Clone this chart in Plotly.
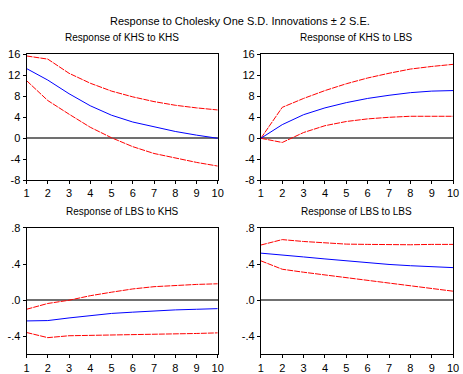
import plotly.graph_objects as go

periods = list(range(1, 11))

# Response of KHS to KHS
khs_khs = [13.3, 11.1, 8.5, 6.2, 4.4, 3.1, 2.2, 1.3, 0.6, 0.0]
khs_khs_up = [15.7, 15.1, 12.4, 10.5, 9.0, 7.9, 7.0, 6.3, 5.8, 5.4]
khs_khs_lo = [11.0, 7.2, 4.6, 2.1, 0.1, -1.6, -2.9, -3.8, -4.6, -5.3]

# Response of KHS to LBS
khs_lbs = [0.0, 2.6, 4.5, 5.8, 6.8, 7.6, 8.2, 8.7, 9.0, 9.1]
khs_lbs_up = [0.0, 5.9, 7.6, 9.1, 10.4, 11.5, 12.4, 13.2, 13.7, 14.1]
khs_lbs_lo = [0.0, -0.8, 1.1, 2.4, 3.2, 3.7, 4.0, 4.2, 4.2, 4.2]

# Response of LBS to KHS
lbs_khs = [-0.229, -0.225, -0.196, -0.168, -0.146, -0.132, -0.118, -0.107, -0.100, -0.093]
lbs_khs_up = [-0.10, -0.036, 0.0, 0.05, 0.089, 0.125, 0.15, 0.164, 0.175, 0.182]
lbs_khs_lo = [-0.357, -0.414, -0.393, -0.389, -0.386, -0.386, -0.382, -0.375, -0.368, -0.361]

# Response of LBS to LBS
lbs_lbs = [0.521, 0.504, 0.479, 0.457, 0.436, 0.414, 0.396, 0.382, 0.368, 0.361]
lbs_lbs_up = [0.611, 0.671, 0.650, 0.632, 0.621, 0.618, 0.614, 0.614, 0.618, 0.618]
lbs_lbs_lo = [0.436, 0.343, 0.31, 0.28, 0.25, 0.22, 0.19, 0.16, 0.13, 0.10]

top_ticks = [-8, -4, 0, 4, 8, 12, 16]
top_ticktext = ["-8", "-4", "0", "4", "8", "12", "16"]
bot_ticks = [-0.4, 0.0, 0.4, 0.8]
bot_ticktext = ["-.4", ".0", ".4", ".8"]

main_title = "Response to Cholesky One S.D. Innovations \u00b1 2 S.E."
panel_titles = ["Response of KHS to KHS", "Response of KHS to LBS",
                "Response of LBS to KHS", "Response of LBS to LBS"]

W, H = 463, 374
panels = [
    (khs_khs, khs_khs_up, khs_khs_lo, (24, 219), (50, 180), "top"),
    (khs_lbs, khs_lbs_up, khs_lbs_lo, (263, 459), (50, 180), "top"),
    (lbs_khs, lbs_khs_up, lbs_khs_lo, (24, 219), (229.3, 360), "bot"),
    (lbs_lbs, lbs_lbs_up, lbs_lbs_lo, (263, 459), (229.3, 360), "bot"),
]

fig = go.Figure()
font = "Liberation Sans, Arial, sans-serif"
annotations = []
for i, (mid, up, lo, (x0, x1), (y0, y1), kind) in enumerate(panels):
    n = i + 1
    xa = "x" if n == 1 else f"x{n}"
    ya = "y" if n == 1 else f"y{n}"
    for ser, col, dash in [(up, "#FF0000", "6px,1px"), (lo, "#FF0000", "6px,1px"), (mid, "#0000FF", "solid")]:
        fig.add_trace(go.Scatter(x=periods, y=ser, mode="lines", xaxis=xa, yaxis=ya,
                                 line=dict(color=col, width=1, dash=dash), showlegend=False,
                                 hoverinfo="skip"))
    xkey = "xaxis" if n == 1 else f"xaxis{n}"
    ykey = "yaxis" if n == 1 else f"yaxis{n}"
    fig.layout[xkey] = dict(domain=[x0 / W, x1 / W], anchor=ya, range=[1, 10],
                            tickvals=periods, ticks="outside", ticklen=3, tickcolor="black",
                            showline=True, linecolor="black", linewidth=1, mirror=True,
                            showgrid=False, zeroline=False,
                            tickfont=dict(family=font, size=11, color="black"))
    if kind == "top":
        yr, tv, tt = [-8, 16], top_ticks, top_ticktext
    else:
        yr, tv, tt = [-0.6, 0.8], bot_ticks, bot_ticktext
    fig.layout[ykey] = dict(domain=[1 - y1 / H, 1 - y0 / H], anchor=xa, range=yr,
                            tickvals=tv, ticktext=tt, ticks="outside", ticklen=3, tickcolor="black",
                            showline=True, linecolor="black", linewidth=1, mirror=True,
                            showgrid=False, zeroline=True, zerolinecolor="#707070", zerolinewidth=1.5,
                            tickfont=dict(family=font, size=11, color="black"))
    annotations.append(dict(text=panel_titles[i], x=(x0 + x1) / 2 / W, y=1 - (y0 - 17) / H,
                            xref="paper", yref="paper", showarrow=False, xanchor="center",
                            yanchor="middle", font=dict(family=font, size=10, color="black")))

annotations.append(dict(text=main_title, x=242 / W, y=1 - 15 / H, xref="paper", yref="paper",
                        showarrow=False, xanchor="center", yanchor="middle",
                        font=dict(family=font, size=11, color="black")))

fig.update_layout(width=W, height=H, margin=dict(l=0, r=0, t=0, b=0),
                  paper_bgcolor="white", plot_bgcolor="white", annotations=annotations)

fig.write_html("out.html", config={"displayModeBar": False},
               post_script="document.body.style.margin='0';document.body.style.overflow='hidden';")
